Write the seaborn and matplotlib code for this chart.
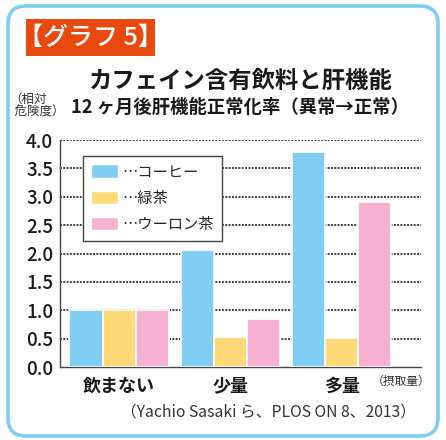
import pandas as pd
import matplotlib.pyplot as plt
import seaborn as sns
from matplotlib.patches import Rectangle, FancyBboxPatch, Patch

groups = ['飲まない', '少量', '多量']
drinks = ['コーヒー', '緑茶', 'ウーロン茶']
coffee = [1.0, 2.06, 3.79]
green_tea = [1.0, 0.53, 0.51]
oolong = [1.0, 0.85, 2.9]
colors = ['#80CEF1', '#FDD978', '#F5B1CF']
yticks = [0, 0.5, 1.0, 1.5, 2.0, 2.5, 3.0, 3.5, 4.0]

rows = []
for i, g in enumerate(groups):
    for d, vals in zip(drinks, [coffee, green_tea, oolong]):
        rows.append({'摂取量': g, '飲料': d, '相対危険度': vals[i]})
df = pd.DataFrame(rows)

sns.set_theme(style='white')
plt.rcParams['font.family'] = ['Noto Sans CJK JP', 'DejaVu Sans']

fig = plt.figure(figsize=(4.46, 4.40), dpi=100)
ax = fig.add_axes([60/446, 1-367/440, 361/446, 227/440])

sns.barplot(x='摂取量', y='相対危険度', hue='飲料', data=df, palette=colors,
            width=0.89, gap=0, edgecolor='white', linewidth=1.2,
            saturation=1, legend=False, ax=ax, zorder=3)

ax.set_ylim(0, 4.0)
ax.set_xlim(-0.53, 2.71)
ax.set_yticks(yticks)
ax.set_yticklabels([f'{t:.1f}' for t in yticks], fontsize=13.5, fontweight='medium')
ax.set_xticks(range(3))
ax.set_xticklabels(groups, fontsize=13, fontweight='bold')
ax.tick_params(axis='y', length=0, pad=5, colors='#1a1a1a')
ax.tick_params(axis='x', length=0, pad=7, colors='#1a1a1a')
ax.set_xlabel('')
ax.set_ylabel('')

# dotted horizontal guides, one line per tick value
for t in yticks[1:]:
    ax.axhline(t, color='#404040', linestyle=(0, (1.0, 0.7)), linewidth=1.4,
               zorder=2.5)

for s in ['top', 'right']:
    ax.spines[s].set_visible(False)
for s in ['left', 'bottom']:
    ax.spines[s].set_color('#444444')
    ax.spines[s].set_linewidth(1.0)

handles = [Patch(facecolor=c, edgecolor='white') for c in colors]
leg = ax.legend(handles, ['⋯' + d for d in drinks], loc='upper left',
                bbox_to_anchor=(0.064, 0.93), fontsize=11, frameon=True,
                fancybox=False, edgecolor='#444444', framealpha=1,
                handlelength=1.8, handleheight=1.0, labelspacing=0.6,
                handletextpad=0.3, borderpad=0.5, borderaxespad=0)
leg.get_frame().set_linewidth(1.0)
leg.set_zorder(5)

# outer frame and header
fig.add_artist(FancyBboxPatch((0.08, 0.04), 4.30, 4.30,
                              boxstyle='round,pad=0,rounding_size=0.18',
                              transform=fig.dpi_scale_trans, facecolor='none',
                              edgecolor='#7FCDF3', linewidth=2.6, zorder=10))
fig.add_artist(Rectangle((26/446, 1-56/440), 129/446, 37/440,
                         transform=fig.transFigure, facecolor='#E8490F',
                         edgecolor='none'))
fig.text(90/446, 1-38/440, '【グラフ 5】', color='white', fontsize=18,
         fontweight='medium', ha='center', va='center')

fig.text(240/446, 1-81/440, 'カフェイン含有飲料と肝機能', fontsize=16.8,
         fontweight='bold', ha='center', va='center', color='#1a1a1a')
fig.text(240/446, 1-107/440, '12 ヶ月後肝機能正常化率（異常→正常）', fontsize=13.2,
         fontweight='bold', ha='center', va='center', color='#1a1a1a')
fig.text(9/446, 1-106/440, '（相対\n  危険度）', fontsize=9, ha='left',
         va='center', color='#333333', linespacing=1.0)
fig.text(401/446, 1-381/440, '（摂取量）', fontsize=8.5, ha='center', va='center',
         color='#333333')
fig.text(416/446, 1-412/440, '（Yachio Sasaki ら、PLOS ON 8、2013）', fontsize=11.3,
         ha='right', va='center', color='#333333')

fig.savefig('out.png', dpi=100)
